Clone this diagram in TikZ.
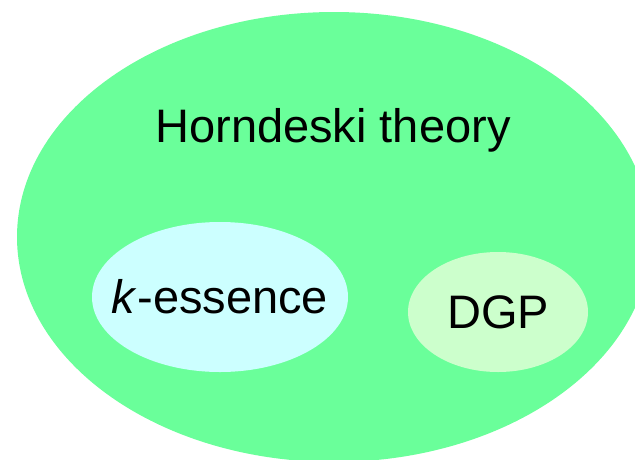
\documentclass[tikz,border=0pt]{standalone}
\usepackage{fontspec}
\setmainfont{Liberation Sans}
\usepackage{tikz}
\usetikzlibrary{shapes.geometric,positioning}
\definecolor{horngreen}{HTML}{6AFF9A}
\definecolor{kcyan}{HTML}{CCFFFF}
\definecolor{dgpgreen}{HTML}{CCFFCC}
\tikzset{
  theoryset/.style={ellipse,fill=#1,draw=none,inner sep=0pt},
  theoryname/.style={inner sep=0pt,font=\fontsize{47}{56}\selectfont}
}

\begin{document}
\begin{tikzpicture}[x=1pt,y=-1pt]
  \useasboundingbox (0,0) rectangle (635,459);
  \clip (0,0) rectangle (635,459);

  \node[theoryset=horngreen,minimum width=634,minimum height=450] (horn) at (334,237) {};
  \node[theoryset=kcyan,minimum width=256,minimum height=150] (kess) at (220,297) {};
  \node[theoryset=dgpgreen,minimum width=180,minimum height=120] (dgp) at (498,312) {};

  \node[theoryname,anchor=base] (hornname) at (333,142) {Horndeski theory};
  \node[theoryname] (kname) at (kess.center) {\textit{k}-essence};
  \node[theoryname] (dgpname) at (dgp.center) {DGP};
\end{tikzpicture}
\end{document}
